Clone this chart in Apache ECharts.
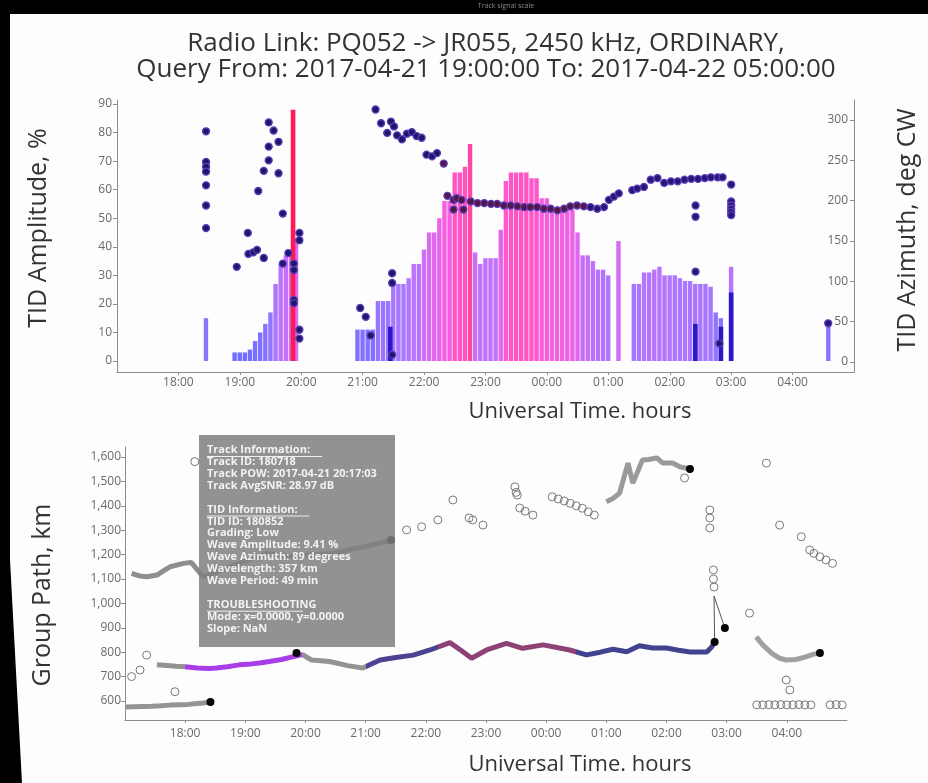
<!DOCTYPE html>
<html>
<head>
<meta charset="utf-8">
<script src="https://cdn.jsdelivr.net/npm/echarts@6/dist/echarts.min.js"></script>
<style>
  html, body { margin: 0; padding: 0; background: #fdfdfd; }
  #chart { width: 928px; height: 783px; }
</style>
</head>
<body>
<div id="chart"></div>
<script>
// ---- Tick labels ----------------------------------------------------------
// Hours are UT hours counted from 00:00 on 2017-04-21; values above 24 fall on 04-22.
const hourTicks = [18, 19, 20, 21, 22, 23, 24, 25, 26, 27, 28];
const amplitudeTicks = [0, 10, 20, 30, 40, 50, 60, 70, 80, 90];
const azimuthTicks = [0, 50, 100, 150, 200, 250, 300];
const groupPathTicks = [600, 700, 800, 900, 1000, 1100, 1200, 1300, 1400, 1500, 1600];

// ---- TID amplitude bars (5-minute bins) ------------------------------------
const ampTimes = [
  "18:27", "18:55", "19:00", "19:05", "19:10", "19:15", "19:20", "19:25", "19:30", "19:35",
  "19:40", "19:45", "19:50", "19:55",
  "20:55", "21:00", "21:05", "21:10", "21:15", "21:20", "21:25", "21:30", "21:35", "21:40",
  "21:45", "21:50", "21:55", "22:00", "22:05", "22:10", "22:15", "22:20", "22:25", "22:30",
  "22:35", "22:40", "22:45", "22:50", "22:55", "23:00", "23:05", "23:10", "23:15", "23:20",
  "23:25", "23:30", "23:35", "23:40", "23:45", "23:50", "23:55", "00:00", "00:05", "00:10",
  "00:15", "00:20", "00:25", "00:30", "00:35", "00:40", "00:45", "00:50", "00:55", "01:00",
  "01:10", "01:25", "01:30", "01:35", "01:40", "01:45", "01:50", "01:55", "02:00", "02:05",
  "02:10", "02:15", "02:20", "02:25", "02:30", "02:35", "02:40", "02:45", "02:50", "03:00",
  "04:35"
];
const ampValues = [
  15, 3, 3, 3, 4, 7, 10, 13, 17, 27,
  34, 37, 39, 43,
  11, 11, 11, 11, 21, 21, 21, 27, 27, 27,
  29, 34, 34, 39, 45, 45, 50, 56, 56, 66,
  66, 68, 76, 38, 34, 36, 36, 36, 46, 63,
  66, 66, 66, 66, 64, 64, 57, 57, 54, 54,
  54, 53, 53, 45, 37, 37, 35, 32, 32, 30,
  42, 27, 27, 31, 31, 32, 33, 30, 30, 30,
  29, 28, 28, 27, 27, 27, 26, 17, 15, 33,
  14
];
// Secondary tracks drawn over the main bins
const ampOverlayTimes = ["19:52", "21:27", "02:25", "02:50", "03:00"];
const ampOverlayValues = [88, 12, 13, 12, 24];

// ---- TID azimuth, deg CW: [UT hour, azimuth] --------------------------------
const azimuthPoints = [
  [18.45, 286], [18.45, 248], [18.45, 242], [18.45, 236], [18.45, 219], [18.45, 194], [18.45, 166],
  [18.95, 118], [19.13, 160], [19.14, 134], [19.22, 136], [19.28, 139], [19.30, 212], [19.39, 237],
  [19.39, 129], [19.47, 297], [19.47, 267], [19.47, 250], [19.55, 287], [19.63, 273], [19.63, 234],
  [19.70, 184], [19.70, 122], [19.79, 135], [19.88, 122], [19.88, 114], [19.88, 77], [19.88, 73],
  [19.97, 160], [19.97, 151], [19.97, 40], [19.97, 29],
  [20.96, 67], [21.05, 56], [21.13, 33], [21.21, 313], [21.30, 296], [21.40, 284], [21.46, 298],
  [21.51, 292], [21.48, 110], [21.48, 98], [21.48, 9], [21.56, 281], [21.64, 276], [21.72, 283],
  [21.80, 285], [21.88, 280], [21.96, 278], [22.04, 257], [22.13, 255], [22.21, 259], [22.32, 246],
  [22.38, 206], [22.48, 201], [22.53, 203], [22.48, 189], [22.61, 201], [22.64, 189],
  [22.76, 199], [22.87, 197], [22.98, 197], [23.09, 196], [23.19, 196], [23.30, 194], [23.41, 194],
  [23.52, 193], [23.63, 192], [23.73, 192], [23.84, 192], [23.95, 190], [24.06, 190], [24.17, 188],
  [24.28, 190], [24.38, 193], [24.49, 194], [24.60, 193], [24.71, 192], [24.82, 190], [24.93, 192],
  [25.01, 201], [25.09, 205], [25.17, 209],
  [25.39, 213], [25.47, 215], [25.58, 217], [25.69, 226], [25.80, 228], [25.91, 222], [26.02, 224],
  [26.13, 224], [26.24, 226], [26.35, 227], [26.46, 227], [26.57, 228], [26.67, 229], [26.78, 229],
  [26.86, 229], [27.0, 220], [27.0, 199], [27.0, 194], [27.0, 190], [27.0, 186], [27.0, 182],
  [26.42, 194], [26.42, 180], [26.42, 112], [26.81, 23], [28.58, 48]
];

// ---- Group path tracks, km: [UT hour, group path] ---------------------------
const trackLow = [
  [17.0, 575], [17.15, 576], [17.3, 577], [17.45, 578], [17.6, 580], [17.75, 583],
  [17.9, 585], [18.05, 586], [18.2, 590], [18.3, 592], [18.42, 596]
];
const trackMid = [
  [17.53, 748], [17.7, 745], [17.85, 742], [18.0, 740], [18.2, 735], [18.4, 733], [18.52, 735],
  [18.7, 740], [18.9, 748], [19.1, 752], [19.24, 756], [19.4, 762], [19.6, 770], [19.8, 782],
  [19.95, 790], [20.1, 768], [20.4, 762], [20.7, 745], [20.95, 735], [21.24, 768], [21.5, 778],
  [21.79, 788], [22.07, 809], [22.4, 839], [22.6, 805], [22.76, 775], [23.01, 809], [23.34, 836],
  [23.61, 816], [23.95, 830], [24.2, 818], [24.39, 809], [24.67, 789], [24.9, 800], [25.11, 812],
  [25.34, 802], [25.55, 826], [25.77, 817], [26.0, 817], [26.2, 808], [26.39, 801], [26.67, 801],
  [26.75, 821], [26.8, 842]
];
const trackHigh = [
  [17.11, 1123], [17.25, 1112], [17.36, 1109], [17.53, 1116], [17.65, 1135], [17.75, 1150],
  [17.97, 1164], [18.1, 1168], [18.3, 1109], [18.63, 1137], [19.0, 1175], [19.35, 1205],
  [19.74, 1191], [20.1, 1198], [20.46, 1206], [20.85, 1226], [21.2, 1245], [21.42, 1260]
];
const trackUpper = [
  [25.0, 1417], [25.11, 1430], [25.22, 1452], [25.36, 1575], [25.44, 1493], [25.52, 1540],
  [25.6, 1588], [25.7, 1590], [25.84, 1596], [25.94, 1575], [26.1, 1575], [26.22, 1560], [26.39, 1551]
];
const trackLate = [
  [27.49, 863], [27.6, 830], [27.75, 795], [27.88, 775], [27.99, 768], [28.15, 770],
  [28.3, 780], [28.45, 792], [28.55, 797]
];
const trackJump = [[26.8, 842], [26.79, 1030], [26.97, 899]];
const trackEnds = [
  [18.42, 596], [19.85, 797], [21.42, 1260], [26.39, 1551], [26.8, 842], [26.97, 899], [28.55, 797]
];
const looseEchoes = [
  [17.11, 700], [17.25, 727], [17.36, 788], [17.83, 638], [18.16, 1581],
  [21.68, 1301], [21.93, 1314], [22.2, 1342], [22.45, 1424], [22.72, 1350], [22.78, 1342],
  [22.95, 1321], [23.48, 1478], [23.5, 1455], [23.52, 1444], [23.56, 1391], [23.65, 1378],
  [23.78, 1362], [24.1, 1437], [24.2, 1428], [24.3, 1420], [24.4, 1410], [24.5, 1400],
  [24.6, 1390], [24.7, 1375], [24.8, 1362], [26.3, 1514], [26.72, 1383], [26.72, 1350],
  [26.72, 1309], [26.78, 1137], [26.78, 1100], [26.79, 1067], [27.38, 960], [27.66, 1575],
  [27.88, 1321], [28.24, 1273], [28.38, 1219], [28.45, 1205], [28.55, 1191], [28.65, 1178],
  [28.76, 1164], [27.99, 686], [28.05, 645],
  [27.5, 584], [27.6, 584], [27.7, 585], [27.8, 584], [27.9, 585], [28.0, 584], [28.1, 584],
  [28.2, 585], [28.3, 584], [28.4, 584], [28.72, 584], [28.82, 585], [28.92, 584]
];

// ---- Texts ------------------------------------------------------------------
const titleLines = [
  "Radio Link: PQ052 -> JR055, 2450 kHz, ORDINARY,",
  "Query From: 2017-04-21 19:00:00 To: 2017-04-22 05:00:00"
];
const infoLines = [
  { t: "Track Information:", u: true },
  { t: "Track ID: 180718" },
  { t: "Track POW: 2017-04-21 20:17:03" },
  { t: "Track AvgSNR: 28.97 dB" },
  { t: "" },
  { t: "TID Information:", u: true },
  { t: "TID ID: 180852" },
  { t: "Grading: Low" },
  { t: "Wave Amplitude: 9.41 %" },
  { t: "Wave Azimuth: 89 degrees" },
  { t: "Wavelength: 357 km" },
  { t: "Wave Period: 49 min" },
  { t: "" },
  { t: "TROUBLESHOOTING", u: true },
  { t: "Mode: x=0.0000, y=0.0000" },
  { t: "Slope: NaN" }
];

// ---- Helpers ------------------------------------------------------------------
const FONT = '"Open Sans", "Noto Sans", sans-serif';
function ut(s) {
  const p = s.split(':').map(Number);
  return (p[0] < 12 ? p[0] + 24 : p[0]) + p[1] / 60;
}
function hourLabel(v) {
  const h = Math.round(v) % 24;
  return (h < 10 ? '0' : '') + h + ':00';
}
const axisGray = '#8c8c8c';
const labelStyle = { color: '#6a6a6a', fontSize: 12, fontFamily: FONT };

function timeAxis(gridIndex, margin) {
  return {
    type: 'value', gridIndex: gridIndex, min: 17, max: 29,
    axisLine: { show: true, onZero: false, lineStyle: { color: axisGray } },
    axisTick: { show: true, customValues: hourTicks, length: 3, lineStyle: { color: axisGray } },
    axisLabel: Object.assign({ customValues: hourTicks, formatter: hourLabel, margin: margin }, labelStyle),
    splitLine: { show: false }
  };
}
function label(x, y, text, size, rotated) {
  return {
    type: 'text', x: x, y: y, rotation: rotated ? Math.PI / 2 : 0,
    style: { text: text, fill: '#333', fontSize: size, fontFamily: FONT,
             textAlign: 'center', textVerticalAlign: 'middle' }
  };
}

const chart = echarts.init(document.getElementById('chart'), null, { renderer: 'canvas' });

// track details panel
const infoGraphics = [
  { type: 'rect', shape: { x: 199, y: 435, width: 196, height: 212 },
    style: { fill: 'rgba(128,128,128,0.86)' }, z: 100 }
];
infoLines.forEach(function (ln, i) {
  if (!ln.t) return;
  const y = 450 + i * 11.9;
  infoGraphics.push({
    type: 'text', x: 207, y: y, z: 101,
    style: { text: ln.t, fill: 'rgba(255,255,255,0.88)', fontSize: 11, fontWeight: 'bold',
             fontFamily: FONT, textVerticalAlign: 'middle' }
  });
  if (ln.u) {
    infoGraphics.push({
      type: 'line', z: 101,
      shape: { x1: 207, y1: y + 6.5, x2: 207 + ln.t.length * 6.4, y2: y + 6.5 },
      style: { stroke: 'rgba(255,255,255,0.85)', lineWidth: 1 }
    });
  }
});

const option = {
  backgroundColor: '#fdfdfd',
  animation: false,
  grid: [
    { left: 117, right: 74, top: 100, bottom: 411, containLabel: false },
    { left: 125, right: 81, top: 447, bottom: 63, containLabel: false }
  ],
  xAxis: [timeAxis(0, 5), timeAxis(1, 8)],
  yAxis: [
    { type: 'value', gridIndex: 0, min: -3.85, max: 91.4,
      axisLine: { show: true, lineStyle: { color: axisGray } },
      axisTick: { show: true, customValues: amplitudeTicks, length: 4, lineStyle: { color: axisGray } },
      axisLabel: Object.assign({ customValues: amplitudeTicks, margin: 5 }, labelStyle),
      splitLine: { show: false } },
    { type: 'value', gridIndex: 0, position: 'right', min: -12.4, max: 324.8,
      axisLine: { show: true, lineStyle: { color: axisGray } },
      axisTick: { show: true, inside: true, customValues: azimuthTicks, length: 4, lineStyle: { color: axisGray } },
      axisLabel: Object.assign({ customValues: azimuthTicks, inside: true, margin: 6 }, labelStyle),
      splitLine: { show: false } },
    { type: 'value', gridIndex: 1, min: 522, max: 1641,
      axisLine: { show: true, lineStyle: { color: axisGray } },
      axisTick: { show: true, customValues: groupPathTicks, length: 4, lineStyle: { color: axisGray } },
      axisLabel: Object.assign({ customValues: groupPathTicks, margin: 4,
        formatter: function (v) { return v.toLocaleString('en-US'); } }, labelStyle),
      splitLine: { show: false } }
  ],
  visualMap: [
    { type: 'continuous', show: false, seriesIndex: 0, dimension: 1, min: 0, max: 90,
      inRange: { color: ['#6c6cff', '#8c74ff', '#b076ff', '#de68f2', '#ff5cd8', '#ff4aa6', '#ff1c5a'] } },
    { type: 'piecewise', show: false, seriesIndex: 1, dimension: 1,
      pieces: [{ lt: 50, color: '#2a18c8' }, { gte: 50, color: '#ff1a55' }] },
    { type: 'piecewise', show: false, seriesIndex: 2, dimension: 0,
      pieces: [{ lt: 22.3, color: '#1b176a' }, { gte: 22.3, lt: 24.7, color: '#561644' },
               { gte: 24.7, color: '#261676' }] },
    { type: 'piecewise', show: false, seriesIndex: 4, dimension: 0,
      pieces: [{ lt: 18.0, color: '#939393' }, { gte: 18.0, lt: 19.95, color: '#a73ee8' },
               { gte: 19.95, lt: 21.0, color: '#939393' }, { gte: 21.0, lt: 22.2, color: '#4c4292' },
               { gte: 22.2, lt: 24.5, color: '#8c4274' }, { gte: 24.5, color: '#42428e' }] }
  ],
  series: [
    { name: 'TID Amplitude', type: 'bar', xAxisIndex: 0, yAxisIndex: 0,
      barWidth: 4.4, barGap: '-100%',
      data: ampTimes.map(function (t, i) { return [ut(t), ampValues[i]]; }) },
    { name: 'TID Amplitude (secondary)', type: 'bar', xAxisIndex: 0, yAxisIndex: 0,
      barWidth: 4.6, barGap: '-100%',
      data: ampOverlayTimes.map(function (t, i) { return [ut(t), ampOverlayValues[i]]; }) },
    { name: 'TID Azimuth', type: 'scatter', xAxisIndex: 0, yAxisIndex: 1, symbolSize: 7, z: 5,
      itemStyle: { borderColor: '#5c3cb8', borderWidth: 1.3, opacity: 1 },
      data: azimuthPoints },

    { type: 'line', xAxisIndex: 1, yAxisIndex: 2, data: trackLow, showSymbol: false,
      lineStyle: { color: '#949494', width: 5 }, itemStyle: { color: '#949494' } },
    { type: 'line', xAxisIndex: 1, yAxisIndex: 2, data: trackMid, showSymbol: false,
      lineStyle: { width: 5 } },
    { type: 'line', xAxisIndex: 1, yAxisIndex: 2, data: trackHigh, showSymbol: false,
      lineStyle: { color: '#8e8e8e', width: 5 }, itemStyle: { color: '#8e8e8e' } },
    { type: 'line', xAxisIndex: 1, yAxisIndex: 2, data: trackUpper, showSymbol: false,
      lineStyle: { color: '#9a9a9a', width: 5 }, itemStyle: { color: '#9a9a9a' } },
    { type: 'line', xAxisIndex: 1, yAxisIndex: 2, data: trackLate, showSymbol: false,
      lineStyle: { color: '#a0a0a0', width: 5 }, itemStyle: { color: '#a0a0a0' } },
    { type: 'line', xAxisIndex: 1, yAxisIndex: 2, data: trackJump, showSymbol: false,
      lineStyle: { color: '#555', width: 1 }, itemStyle: { color: '#555' } },
    { type: 'scatter', xAxisIndex: 1, yAxisIndex: 2, data: looseEchoes, symbolSize: 8,
      itemStyle: { color: 'rgba(255,255,255,0)', borderColor: '#7a7a7a', borderWidth: 1, opacity: 1 } },
    { type: 'scatter', xAxisIndex: 1, yAxisIndex: 2, data: trackEnds, symbolSize: 8, z: 6,
      itemStyle: { color: '#050505', opacity: 1 } }
  ],
  graphic: [
    // dark frame around the captured screen
    { type: 'rect', shape: { x: 0, y: 0, width: 928, height: 14 }, style: { fill: '#000' }, z: 200 },
    { type: 'polygon', shape: { points: [[0, 0], [10, 0], [10, 560], [22, 783], [0, 783]] },
      style: { fill: '#000' }, z: 200 },
    { type: 'text', x: 506, y: 6, z: 201,
      style: { text: 'Track signal scale', fill: '#8a8a8a', fontSize: 7, fontFamily: FONT,
               textAlign: 'center', textVerticalAlign: 'middle' } },
    // title
    label(486, 44, titleLines[0], 26),
    label(486, 70, titleLines[1], 26),
    // axis titles
    label(580, 412, 'Universal Time. hours', 22),
    label(580, 765, 'Universal Time. hours', 22),
    label(39, 228, 'TID Amplitude, %', 25, true),
    label(43, 595, 'Group Path, km', 25, true),
    label(908, 230, 'TID Azimuth, deg CW', 25, true)
  ].concat(infoGraphics)
};

chart.setOption(option);
</script>
</body>
</html>
